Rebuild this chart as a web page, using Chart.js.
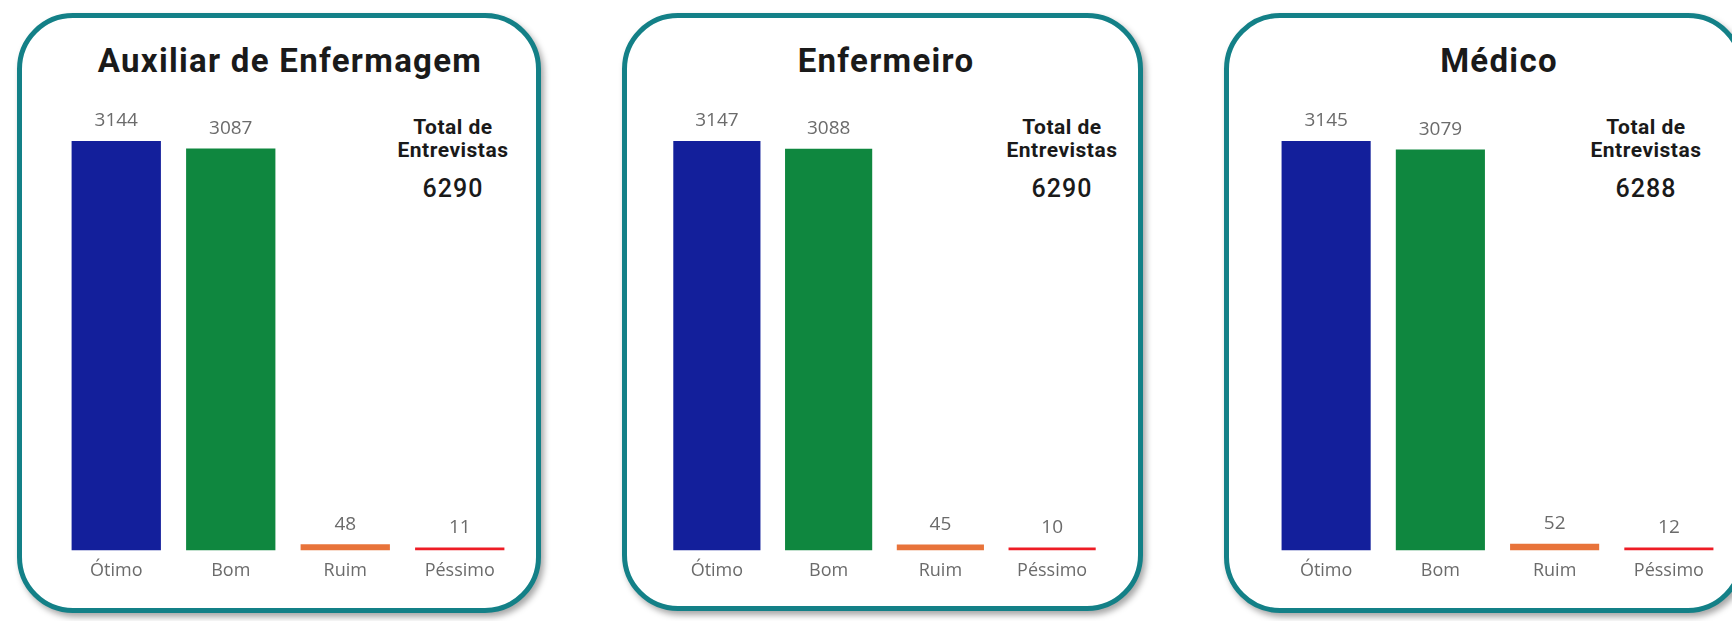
<!DOCTYPE html>
<html>
<head>
<meta charset="utf-8">
<script src="https://cdn.jsdelivr.net/npm/chart.js@4"></script>
<style>
  body { margin: 0; background: #fff; width: 1732px; height: 621px; overflow: hidden; position: relative; font-family: "Open Sans", sans-serif; }
  .panel { position: absolute; top: 13px; height: 597px; border: 5px solid #138087; border-radius: 56px; box-sizing: border-box; background: #fff; box-shadow: 3px 4px 6px rgba(0,0,0,0.35); }
  .title { position: absolute; top: 41px; font-family: Roboto, sans-serif; font-weight: 700; font-size: 33px; letter-spacing: 1.3px; color: #1a1a1a; transform: translateX(-50%); white-space: nowrap; }
  .total { position: absolute; top: 116px; text-align: center; font-family: Roboto, sans-serif; color: #1a1a1a; transform: translateX(-50%); }
  .total .lbl { font-weight: 700; font-size: 21px; line-height: 23px; letter-spacing: 0.5px; }
  .total .num { font-weight: 500; font-size: 25px; line-height: 32px; margin-top: 11px; letter-spacing: 1px; }
  .chartBox { position: absolute; top: 100px; height: 492px; }
</style>
</head>
<body>
<div class="panel" style="left:17px;width:524px;height:600px"></div>
<div class="panel" style="left:622px;width:521px;height:598px"></div>
<div class="panel" style="left:1224px;width:520px;height:600px"></div>

<div class="title" style="left:290px">Auxiliar de Enfermagem</div>
<div class="title" style="left:886px">Enfermeiro</div>
<div class="title" style="left:1499px">Médico</div>

<div class="total" style="left:453px"><div class="lbl">Total de<br>Entrevistas</div><div class="num" id="total1"></div></div>
<div class="total" style="left:1062px"><div class="lbl">Total de<br>Entrevistas</div><div class="num" id="total2"></div></div>
<div class="total" style="left:1646px"><div class="lbl">Total de<br>Entrevistas</div><div class="num" id="total3"></div></div>

<div class="chartBox" style="left:59px;width:458px"><canvas id="chart1"></canvas></div>
<div class="chartBox" style="left:661px;width:447px"><canvas id="chart2"></canvas></div>
<div class="chartBox" style="left:1269px;width:457px"><canvas id="chart3"></canvas></div>

<script>
const categories = ["Ótimo", "Bom", "Ruim", "Péssimo"];
const barColors = ["#131f9b", "#0f873f", "#e8733a", "#ee1c25"];

const auxiliarValues = [3144, 3087, 48, 11];
const enfermeiroValues = [3147, 3088, 45, 10];
const medicoValues = [3145, 3079, 52, 12];

const totals = [6290, 6290, 6288];

// draws the value above each bar
const valueLabels = {
  id: "valueLabels",
  afterDatasetsDraw(chart) {
    const ctx = chart.ctx;
    const meta = chart.getDatasetMeta(0);
    ctx.save();
    ctx.font = "19px 'Open Sans', sans-serif";
    ctx.fillStyle = "#6b6b6b";
    ctx.textAlign = "center";
    ctx.textBaseline = "middle";
    meta.data.forEach((bar, i) => {
      ctx.fillText(chart.data.datasets[0].data[i], bar.x, bar.y - 20);
    });
    ctx.restore();
  }
};

function makeChart(id, values) {
  const ctx = document.getElementById(id).getContext("2d");
  return new Chart(ctx, {
    type: "bar",
    data: {
      labels: categories,
      datasets: [{
        data: values,
        backgroundColor: barColors,
        barPercentage: 0.78,
        categoryPercentage: 1,
        minBarLength: 3
      }]
    },
    options: {
      responsive: true,
      maintainAspectRatio: false,
      animation: false,
      layout: { padding: { top: 41, left: 0, right: 0, bottom: 0 } },
      plugins: { legend: { display: false }, tooltip: { enabled: false } },
      scales: {
        y: { display: false, min: 0, max: Math.max(...values) },
        x: {
          grid: { display: false, drawTicks: false },
          border: { display: false },
          ticks: { color: "#6b6b6b", padding: 10, font: { family: "'Open Sans', sans-serif", size: 18 } }
        }
      }
    },
    plugins: [valueLabels]
  });
}

makeChart("chart1", auxiliarValues);
makeChart("chart2", enfermeiroValues);
makeChart("chart3", medicoValues);

totals.forEach((t, i) => {
  document.getElementById("total" + (i + 1)).textContent = t;
});
</script>
</body>
</html>
